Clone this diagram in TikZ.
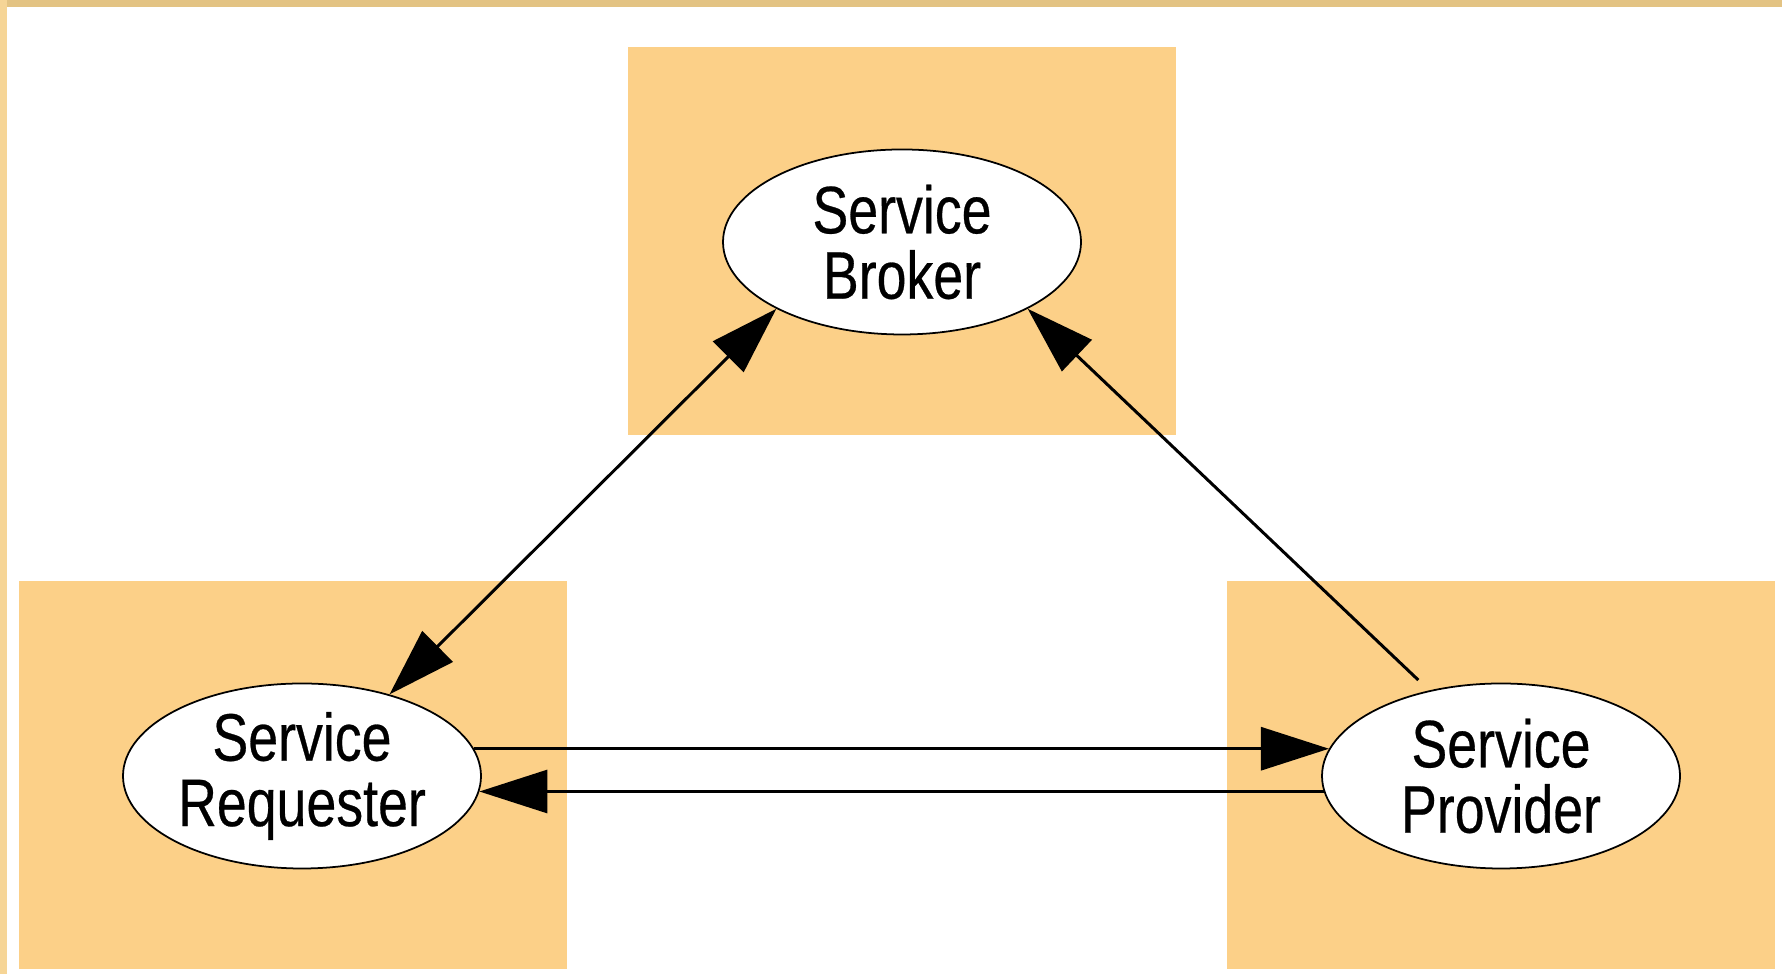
\documentclass[tikz,border=0pt]{standalone}
\usepackage{fontspec}
\setmainfont{Liberation Sans}[FakeStretch=0.8,FakeBold=0.4]
\usepackage{xcolor}
\usepackage{tikz}
\usetikzlibrary{arrows.meta,shapes.geometric}
\definecolor{frametop}{HTML}{E3C383}
\definecolor{frameleft}{HTML}{F6D596}
\definecolor{tan}{HTML}{FCD088}

\begin{document}
\begin{tikzpicture}[line width=0.85pt,
  box/.style={rectangle,fill=tan,minimum width=5.48cm,minimum height=3.88cm,inner sep=0pt},
  role/.style={ellipse,draw,line width=0.5pt,fill=white,minimum width=3.58cm,minimum height=1.85cm,
    inner sep=0pt,align=center,font=\fontsize{19.1}{18.6}\selectfont},
  >={Triangle[length=6.8mm,width=4.3mm]}]
\useasboundingbox (0,0) rectangle (17.82,9.74);
\fill[frametop] (0,9.67) rectangle (17.82,9.74);
\fill[frameleft] (0,0) rectangle (0.07,9.74);

\node (BB)[box] at (9.02,7.325) {};
\node (RB)[box] at (2.925,1.99) {};
\node (PB)[box] at (15.01,1.99) {};

\node (B)[role] at (9.02,7.32) {Service\\Broker};
\node (R)[role] at (3.02,1.98) {Service\\Requester};
\node (P)[role] at (15.01,1.98) {Service\\Provider};

\draw[<->] (R.43) -- (B.208);
\draw[->,shorten <=0.15cm] (P.130) -- (B.332);

\draw[->] (R.9) -- (P.171);
\draw[<-] (R.-5) -- (P.185);
\end{tikzpicture}
\end{document}
